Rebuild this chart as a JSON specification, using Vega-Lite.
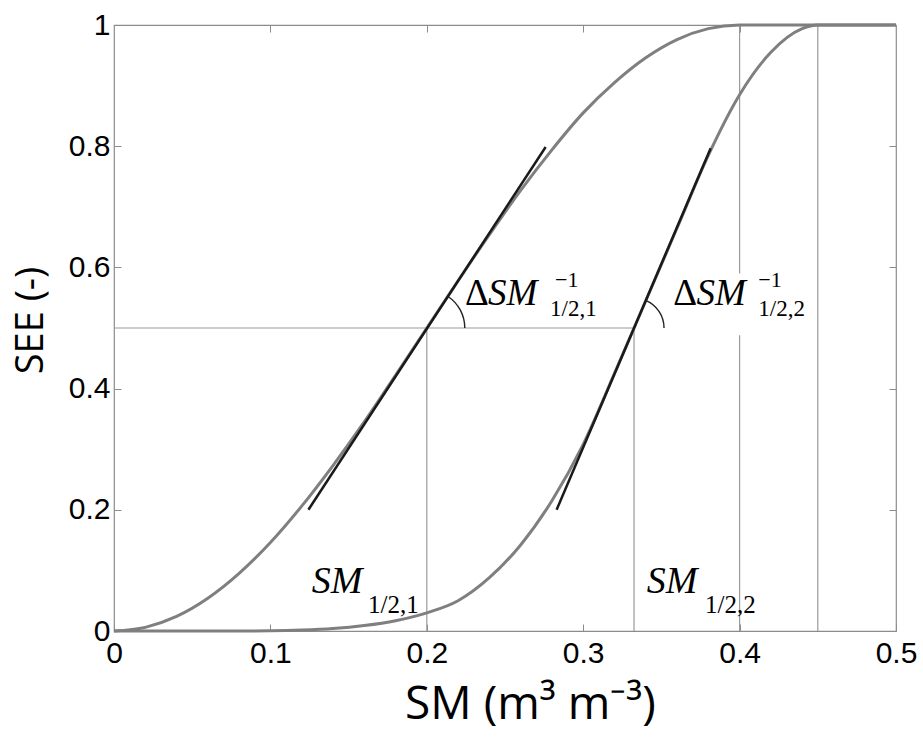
{
  "$schema": "https://vega.github.io/schema/vega-lite/v6.json",
  "width": 782,
  "height": 606,
  "autosize": "none",
  "padding": {"left": 114, "top": 25, "right": 27, "bottom": 112},
  "background": "white",
  "config": {
    "font": "Liberation Sans",
    "view": {"stroke": "#8c8c8c", "strokeWidth": 1.2},
    "axis": {"grid": false, "domain": false}
  },
  "datasets": {
    "refs": [
      {"x": 0, "y": 0.5, "x2": 0.3325, "y2": 0.5},
      {"x": 0.2, "y": 0, "x2": 0.2, "y2": 0.5},
      {"x": 0.3325, "y": 0, "x2": 0.3325, "y2": 0.5},
      {"x": 0.4, "y": 0, "x2": 0.4, "y2": 0.488},
      {"x": 0.4, "y": 0.59, "x2": 0.4, "y2": 1},
      {"x": 0.45, "y": 0, "x2": 0.45, "y2": 1}
    ],
    "curves": [
      {"s": "c1", "x": 0, "y": 0},
      {"s": "c1", "x": 0.02, "y": 0.006},
      {"s": "c1", "x": 0.04, "y": 0.024},
      {"s": "c1", "x": 0.06, "y": 0.054},
      {"s": "c1", "x": 0.08, "y": 0.095},
      {"s": "c1", "x": 0.10, "y": 0.146},
      {"s": "c1", "x": 0.12, "y": 0.206},
      {"s": "c1", "x": 0.14, "y": 0.273},
      {"s": "c1", "x": 0.16, "y": 0.345},
      {"s": "c1", "x": 0.18, "y": 0.422},
      {"s": "c1", "x": 0.20, "y": 0.5},
      {"s": "c1", "x": 0.22, "y": 0.578},
      {"s": "c1", "x": 0.24, "y": 0.654},
      {"s": "c1", "x": 0.26, "y": 0.727},
      {"s": "c1", "x": 0.28, "y": 0.794},
      {"s": "c1", "x": 0.30, "y": 0.855},
      {"s": "c1", "x": 0.32, "y": 0.905},
      {"s": "c1", "x": 0.34, "y": 0.946},
      {"s": "c1", "x": 0.36, "y": 0.976},
      {"s": "c1", "x": 0.38, "y": 0.994},
      {"s": "c1", "x": 0.40, "y": 1},
      {"s": "c1", "x": 0.50, "y": 1},
      {"s": "c2", "x": 0, "y": 0},
      {"s": "c2", "x": 0.08, "y": 0},
      {"s": "c2", "x": 0.10, "y": 0.0003},
      {"s": "c2", "x": 0.12, "y": 0.0015},
      {"s": "c2", "x": 0.14, "y": 0.004},
      {"s": "c2", "x": 0.16, "y": 0.009},
      {"s": "c2", "x": 0.18, "y": 0.017},
      {"s": "c2", "x": 0.20, "y": 0.030},
      {"s": "c2", "x": 0.22, "y": 0.050},
      {"s": "c2", "x": 0.24, "y": 0.088},
      {"s": "c2", "x": 0.26, "y": 0.142},
      {"s": "c2", "x": 0.28, "y": 0.215},
      {"s": "c2", "x": 0.30, "y": 0.308},
      {"s": "c2", "x": 0.32, "y": 0.425},
      {"s": "c2", "x": 0.3325, "y": 0.5},
      {"s": "c2", "x": 0.34, "y": 0.545},
      {"s": "c2", "x": 0.36, "y": 0.665},
      {"s": "c2", "x": 0.38, "y": 0.785},
      {"s": "c2", "x": 0.40, "y": 0.885},
      {"s": "c2", "x": 0.42, "y": 0.955},
      {"s": "c2", "x": 0.44, "y": 0.994},
      {"s": "c2", "x": 0.45, "y": 1},
      {"s": "c2", "x": 0.50, "y": 1}
    ],
    "tangents": [
      {"x": 0.1243, "y": 0.2, "x2": 0.276, "y2": 0.7987},
      {"x": 0.283, "y": 0.2, "x2": 0.3815, "y2": 0.7965}
    ]
  },
  "resolve": {"axis": {"x": "independent", "y": "independent"}},
  "layer": [
    {
      "data": {"name": "refs"},
      "mark": {"type": "rule", "color": "#9a9a9a", "strokeWidth": 1.2},
      "encoding": {
        "x": {"field": "x", "type": "quantitative", "scale": {"domain": [0, 0.5], "nice": false, "zero": false},
          "axis": {"orient": "bottom", "values": [0, 0.1, 0.2, 0.3, 0.4, 0.5], "format": "~g", "title": "SM (m³ m⁻³)",
            "labelFont": "Liberation Sans", "labelFontSize": 30, "labelColor": "#000", "labelPadding": 14, "labelFlush": false,
            "tickSize": -7, "tickColor": "#8c8c8c", "tickWidth": 1,
            "titleFont": "Open Sans", "titleFontSize": 46, "titleFontWeight": "normal", "titleColor": "#000",
            "titleX": 416, "titleY": 87, "titleAlign": "center", "titleBaseline": "alphabetic", "titleAnchor": null}},
        "y": {"field": "y", "type": "quantitative", "scale": {"domain": [0, 1], "nice": false, "zero": false},
          "axis": {"orient": "left", "values": [0, 0.2, 0.4, 0.6, 0.8, 1], "format": "~g", "title": "SEE (-)",
            "labelFont": "Liberation Sans", "labelFontSize": 30, "labelColor": "#000", "labelPadding": 11, "labelFlush": false,
            "tickSize": -7, "tickColor": "#8c8c8c", "tickWidth": 1,
            "titleFont": "Open Sans", "titleFontSize": 38, "titleFontWeight": "normal", "titleColor": "#000",
            "titleAngle": -90, "titleX": -72, "titleY": 295, "titleAlign": "center", "titleBaseline": "alphabetic", "titleAnchor": null}},
        "x2": {"field": "x2"},
        "y2": {"field": "y2"}
      }
    },
    {
      "data": {"name": "curves"},
      "mark": {"type": "line", "color": "#7f7f7f", "strokeWidth": 3, "interpolate": "monotone"},
      "encoding": {
        "x": {"field": "x", "type": "quantitative", "axis": {"orient": "top", "values": [0.1, 0.2, 0.3, 0.4], "labels": false, "title": null, "tickSize": -7, "tickColor": "#8c8c8c"}},
        "y": {"field": "y", "type": "quantitative", "axis": {"orient": "right", "values": [0.2, 0.4, 0.6, 0.8], "labels": false, "title": null, "tickSize": -7, "tickColor": "#8c8c8c"}},
        "detail": {"field": "s"}
      }
    },
    {
      "data": {"name": "tangents"},
      "mark": {"type": "rule", "color": "#1a1a1a", "strokeWidth": 2.5},
      "encoding": {
        "x": {"field": "x", "type": "quantitative", "axis": null},
        "y": {"field": "y", "type": "quantitative", "axis": null},
        "x2": {"field": "x2"},
        "y2": {"field": "y2"}
      }
    },
    {
      "data": {"values": [{"x": 0.2, "y": 0.5}]},
      "mark": {"type": "arc", "innerRadius": 37.3, "outerRadius": 38.7, "theta": 0.58, "theta2": 1.5708, "fill": "#222"},
      "encoding": {
        "x": {"field": "x", "type": "quantitative", "axis": null},
        "y": {"field": "y", "type": "quantitative", "axis": null}
      }
    },
    {
      "data": {"values": [{"x": 0.3325, "y": 0.5}]},
      "mark": {"type": "arc", "innerRadius": 29.3, "outerRadius": 30.7, "theta": 0.40, "theta2": 1.5708, "fill": "#222"},
      "encoding": {
        "x": {"field": "x", "type": "quantitative", "axis": null},
        "y": {"field": "y", "type": "quantitative", "axis": null}
      }
    },
    {
      "data": {"values": [
        {"x": 0.1264, "y": 0.0627, "t": "SM"},
        {"x": 0.3406, "y": 0.0627, "t": "SM"}
      ]},
      "mark": {"type": "text", "font": "Liberation Serif", "fontStyle": "italic", "fontSize": 38, "align": "left", "baseline": "alphabetic", "color": "#000"},
      "encoding": {
        "x": {"field": "x", "type": "quantitative", "axis": null},
        "y": {"field": "y", "type": "quantitative", "axis": null},
        "text": {"field": "t"}
      }
    },
    {
      "data": {"values": [
        {"x": 0.1624, "y": 0.0297, "t": "1/2,1"},
        {"x": 0.3779, "y": 0.0297, "t": "1/2,2"}
      ]},
      "mark": {"type": "text", "font": "Liberation Serif", "fontSize": 25, "align": "left", "baseline": "alphabetic", "color": "#000"},
      "encoding": {
        "x": {"field": "x", "type": "quantitative", "axis": null},
        "y": {"field": "y", "type": "quantitative", "axis": null},
        "text": {"field": "t"}
      }
    },
    {
      "data": {"values": [
        {"x": 0.2244, "y": 0.538, "t": "Δ"},
        {"x": 0.3576, "y": 0.538, "t": "Δ"}
      ]},
      "mark": {"type": "text", "font": "Liberation Serif", "fontSize": 37, "align": "left", "baseline": "alphabetic", "color": "#000"},
      "encoding": {
        "x": {"field": "x", "type": "quantitative", "axis": null},
        "y": {"field": "y", "type": "quantitative", "axis": null},
        "text": {"field": "t"}
      }
    },
    {
      "data": {"values": [
        {"x": 0.2392, "y": 0.538, "t": "SM"},
        {"x": 0.3724, "y": 0.538, "t": "SM"}
      ]},
      "mark": {"type": "text", "font": "Liberation Serif", "fontStyle": "italic", "fontSize": 37, "align": "left", "baseline": "alphabetic", "color": "#000"},
      "encoding": {
        "x": {"field": "x", "type": "quantitative", "axis": null},
        "y": {"field": "y", "type": "quantitative", "axis": null},
        "text": {"field": "t"}
      }
    },
    {
      "data": {"values": [
        {"x": 0.282, "y": 0.568, "t": "−1"},
        {"x": 0.412, "y": 0.568, "t": "−1"}
      ]},
      "mark": {"type": "text", "font": "Liberation Serif", "fontSize": 22, "align": "left", "baseline": "alphabetic", "color": "#000"},
      "encoding": {
        "x": {"field": "x", "type": "quantitative", "axis": null},
        "y": {"field": "y", "type": "quantitative", "axis": null},
        "text": {"field": "t"}
      }
    },
    {
      "data": {"values": [
        {"x": 0.2788, "y": 0.5203, "t": "1/2,1"},
        {"x": 0.412, "y": 0.5203, "t": "1/2,2"}
      ]},
      "mark": {"type": "text", "font": "Liberation Serif", "fontSize": 23, "align": "left", "baseline": "alphabetic", "color": "#000"},
      "encoding": {
        "x": {"field": "x", "type": "quantitative", "axis": null},
        "y": {"field": "y", "type": "quantitative", "axis": null},
        "text": {"field": "t"}
      }
    }
  ]
}
